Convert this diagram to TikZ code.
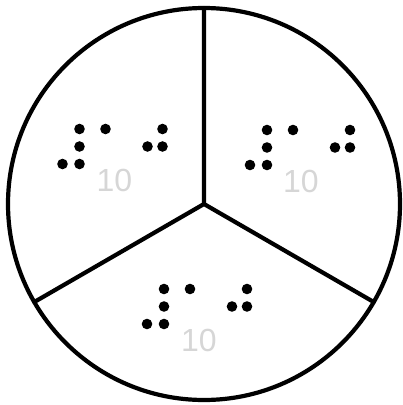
\documentclass[tikz,border=0pt]{standalone}
\usepackage{fontspec}
\setmainfont{Liberation Sans}
\definecolor{numgray}{RGB}{214,214,214}
\begin{document}
\begin{tikzpicture}[x=1pt,y=-1pt,line join=round,line cap=round]
	\tikzset{
		rim/.style={line width=4.2pt},
		brdot/.style={fill=black},
		num/.style={text=numgray,inner sep=0pt,font=\fontsize{32}{32}\selectfont},
	}
	\useasboundingbox (0,0) rectangle (403,405);
	\path 
	(204,204)coordinate(O)
	(204,8)coordinate(T)
	(34.3,302)coordinate(L)
	(373.7,302)coordinate(R)
	(62.5,129)coordinate(S1)
	(250,130)coordinate(S2)
	(147,289)coordinate(S3)
	;
	\draw[rim] (O) circle (196pt);
	\draw[rim] (O)--(T) (O)--(L) (O)--(R);
	% braille: number sign, a, j
	\foreach \s in {S1,S2,S3}{
		\foreach \dx/\dy in {0/35,17/0,17/17.5,17/35,43/0,85/17.5,100/0,100/17.5}
		\fill[brdot] ([shift={(\dx,\dy)}]\s) circle (5.3pt);
	}
	\node[num] (ten1) at ([shift={(52,51)}]S1) {10};
	\node[num] (ten2) at ([shift={(51,51)}]S2) {10};
	\node[num] (ten3) at ([shift={(52,51)}]S3) {10};
\end{tikzpicture}
\end{document}
